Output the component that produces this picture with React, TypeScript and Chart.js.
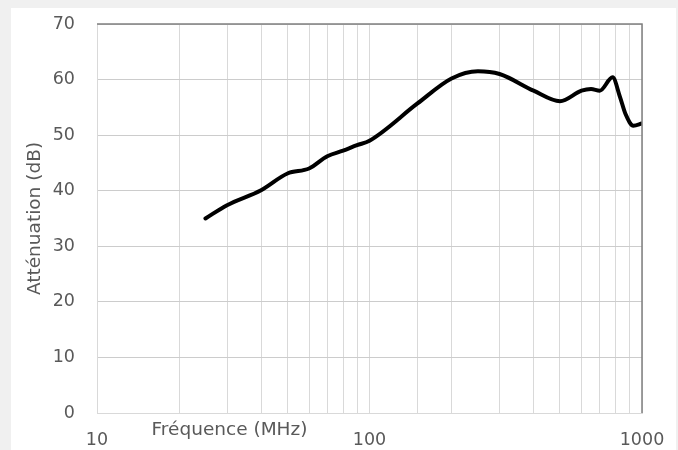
import React, { useEffect, useRef } from 'react';
import { Chart, registerables } from 'chart.js';

Chart.register(...registerables);

// Frequency (MHz) sample points
const frequencies = [25, 30, 40, 50, 60, 70, 80, 90, 100, 150, 200, 250, 300, 400, 500, 600, 650, 700, 780, 830, 870, 930, 1000];
// Attenuation (dB) at those frequencies
const attenuation = [35, 37.4, 40.1, 43.1, 44.0, 46.2, 47.2, 48.2, 49.0, 55.7, 60.2, 61.5, 61.0, 58.0, 56.1, 58.0, 58.3, 58.0, 60.4, 56.9, 53.8, 51.7, 52.1];
// Labelled x ticks (decades)
const xTickLabels = [10, 100, 1000];
const xTitle = 'Fréquence (MHz)';
const yTitle = 'Atténuation (dB)';

const FONT = "'DejaVu Sans', 'Liberation Sans', Arial, sans-serif";
const TEXT = '#595959';

const titlesPlugin = {
  id: 'customTitles',
  afterDraw(chart: any) {
    const { ctx, chartArea } = chart;
    ctx.save();
    // top and right border (darker)
    ctx.strokeStyle = '#808080';
    ctx.lineWidth = 1.5;
    ctx.beginPath();
    ctx.moveTo(chartArea.left, chartArea.top);
    ctx.lineTo(chartArea.right, chartArea.top);
    ctx.lineTo(chartArea.right, chartArea.bottom);
    ctx.stroke();

    ctx.fillStyle = TEXT;
    ctx.font = `18.5px ${FONT}`;
    ctx.textAlign = 'center';
    ctx.textBaseline = 'middle';
    ctx.fillText(xTitle, 218.5, 422);
    ctx.translate(24, (chartArea.top + chartArea.bottom) / 2);
    ctx.rotate(-Math.PI / 2);
    ctx.fillText(yTitle, 0, 0);
    ctx.restore();
  },
};

const zeroPad = (s: any) => {
  s.paddingTop = 0;
  s.paddingBottom = 0;
  s.paddingLeft = 0;
  s.paddingRight = 0;
};

export default function App() {
  const ref = useRef<HTMLCanvasElement>(null);

  useEffect(() => {
    if (!ref.current) return;
    const chart = new Chart(ref.current, {
      type: 'line',
      data: {
        datasets: [
          {
            data: frequencies.map((f, i) => ({ x: f, y: attenuation[i] })),
            borderColor: '#000000',
            borderWidth: 4,
            pointRadius: 0,
            cubicInterpolationMode: 'monotone',
            borderCapStyle: 'round',
            borderJoinStyle: 'round',
            fill: false,
          },
        ],
      },
      options: {
        animation: false,
        responsive: false,
        maintainAspectRatio: false,
        layout: { padding: { left: 0, right: 34, top: 16, bottom: 0 }, autoPadding: false },
        plugins: { legend: { display: false }, tooltip: { enabled: false } },
        scales: {
          x: {
            type: 'logarithmic',
            min: 10,
            max: 1000,
            grid: { color: '#d9d9d9', lineWidth: 1, drawTicks: false },
            border: { color: '#d9d9d9' },
            ticks: {
              autoSkip: false,
              maxRotation: 0,
              padding: 17,
              color: TEXT,
              font: { family: FONT, size: 17.5 },
              callback: (v: any) => (xTickLabels.includes(Number(v)) ? String(v) : ''),
            },
            afterFit: (s: any) => {
              s.height = 37;
              zeroPad(s);
            },
          },
          y: {
            min: 0,
            max: 70,
            grid: { color: '#cccccc', lineWidth: 1, drawTicks: false },
            border: { color: '#d9d9d9' },
            ticks: {
              stepSize: 10,
              padding: 22,
              color: TEXT,
              font: { family: FONT, size: 17.5 },
            },
            afterFit: (s: any) => {
              s.width = 86;
              zeroPad(s);
            },
          },
        },
      },
      plugins: [titlesPlugin],
    } as any);
    return () => chart.destroy();
  }, []);

  return (
    <div style={{ position: 'fixed', inset: 0, background: '#f0f0f0' }}>
      <div style={{ position: 'absolute', left: 11, top: 8, width: 665, height: 442, background: '#ffffff' }}>
        <canvas ref={ref} width={665} height={442} style={{ display: 'block', width: 665, height: 442 }} />
      </div>
    </div>
  );
}
